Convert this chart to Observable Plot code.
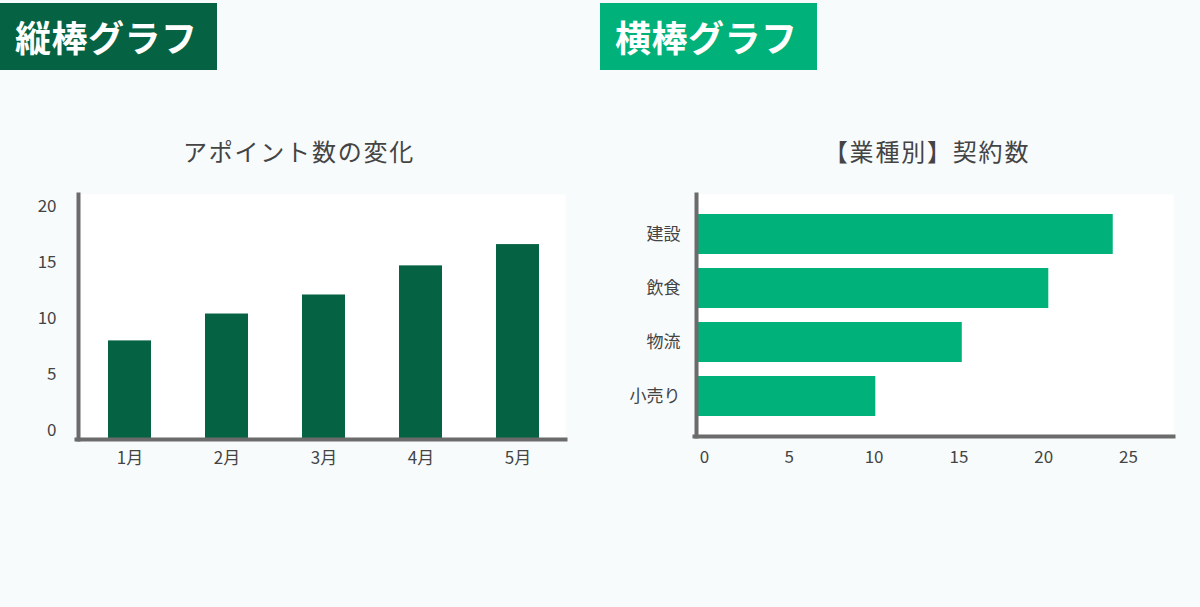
<!DOCTYPE html>
<html>
<head>
<meta charset="utf-8">
<script src="https://cdn.jsdelivr.net/npm/d3@7"></script>
<script src="https://cdn.jsdelivr.net/npm/@observablehq/plot@0.6"></script>
<style>
  html, body { margin: 0; padding: 0; }
  body { width: 1200px; height: 607px; background: #f7fbfc; position: relative; overflow: hidden;
         font-family: "Noto Sans CJK JP", "Noto Sans", sans-serif; }
  .tag { position: absolute; top: 3px; height: 67px; width: 217px; color: #fff; font-weight: bold;
         font-size: 36px; line-height: 67px; letter-spacing: 0.5px; box-sizing: border-box; padding-left: 15px; }
  .title { position: absolute; top: 134px; font-size: 24px; color: #444; letter-spacing: 1.8px;
           line-height: 34px; white-space: nowrap; transform: translateX(-50%); }
  .chart { position: absolute; top: 180px; }
</style>
</head>
<body>
<div class="tag" style="left:0; background:#056343;">縦棒グラフ</div>
<div class="tag" style="left:600px; background:#00b27a;">横棒グラフ</div>
<div class="title" style="left:299px;">アポイント数の変化</div>
<div class="title" style="left:927px;">【業種別】契約数</div>
<div class="chart" id="left" style="left:0;"></div>
<div class="chart" id="right" style="left:600px;"></div>
<script>
// ---- data ----
const months = ["1月", "2月", "3月", "4月", "5月"];
const appointments = [8, 10.4, 12.1, 14.7, 16.6];
const yTicksLeft = [0, 5, 10, 15, 20];

const industries = ["建設", "飲食", "物流", "小売り"];
const contracts = [24.1, 20.3, 15.2, 10.1];
const xTicksRight = [0, 5, 10, 15, 20, 25];

const leftData = months.map((m, i) => ({month: m, value: appointments[i]}));
const rightData = industries.map((c, i) => ({industry: c, value: contracts[i]}));

const axisColor = "#6b6b6b";
const font = '"Noto Sans CJK JP", "Noto Sans", sans-serif';

const left = Plot.plot({
  width: 600, height: 300,
  marginLeft: 78, marginRight: 35, marginTop: 14, marginBottom: 41,
  style: {background: "transparent", fontFamily: font, color: "#444", overflow: "visible"},
  x: {domain: months, range: [81, 566], paddingInner: 0.557, paddingOuter: 0.278, label: null},
  y: {domain: [0, 20], range: [250, 26], label: null},
  marks: [
    Plot.frame({fill: "white", stroke: null, insetLeft: -2}),
    Plot.barY(leftData, {x: "month", y: "value", fill: "#056343", insetBottom: -9}),
    Plot.axisY({ticks: yTicksLeft, tickSize: 0, tickPadding: 22, fontSize: 17, label: null}),
    Plot.axisX({tickSize: 0, tickPadding: 12, fontSize: 17, label: null}),
    Plot.frame({anchor: "left", stroke: axisColor, strokeWidth: 4}),
    Plot.frame({anchor: "bottom", stroke: axisColor, strokeWidth: 4, insetLeft: -2})
  ]
});
document.getElementById("left").append(left);

const right = Plot.plot({
  width: 600, height: 300,
  marginLeft: 96, marginRight: 27, marginTop: 14, marginBottom: 44,
  style: {background: "transparent", fontFamily: font, color: "#444", overflow: "visible"},
  x: {domain: [0, 25], range: [104, 528], label: null},
  y: {domain: industries, range: [14, 256], paddingInner: 0.255, paddingOuter: 0.33, label: null},
  marks: [
    Plot.frame({fill: "white", stroke: null, insetLeft: -2}),
    Plot.barX(rightData, {x: "value", y: "industry", fill: "#00b27a", insetLeft: -7}),
    Plot.axisY({tickSize: 0, tickPadding: 16, fontSize: 17, label: null}),
    Plot.axisX({ticks: xTicksRight, tickSize: 0, tickPadding: 14, fontSize: 17, label: null}),
    Plot.frame({anchor: "left", stroke: axisColor, strokeWidth: 4}),
    Plot.frame({anchor: "bottom", stroke: axisColor, strokeWidth: 4, insetLeft: -2})
  ]
});
document.getElementById("right").append(right);
</script>
</body>
</html>
